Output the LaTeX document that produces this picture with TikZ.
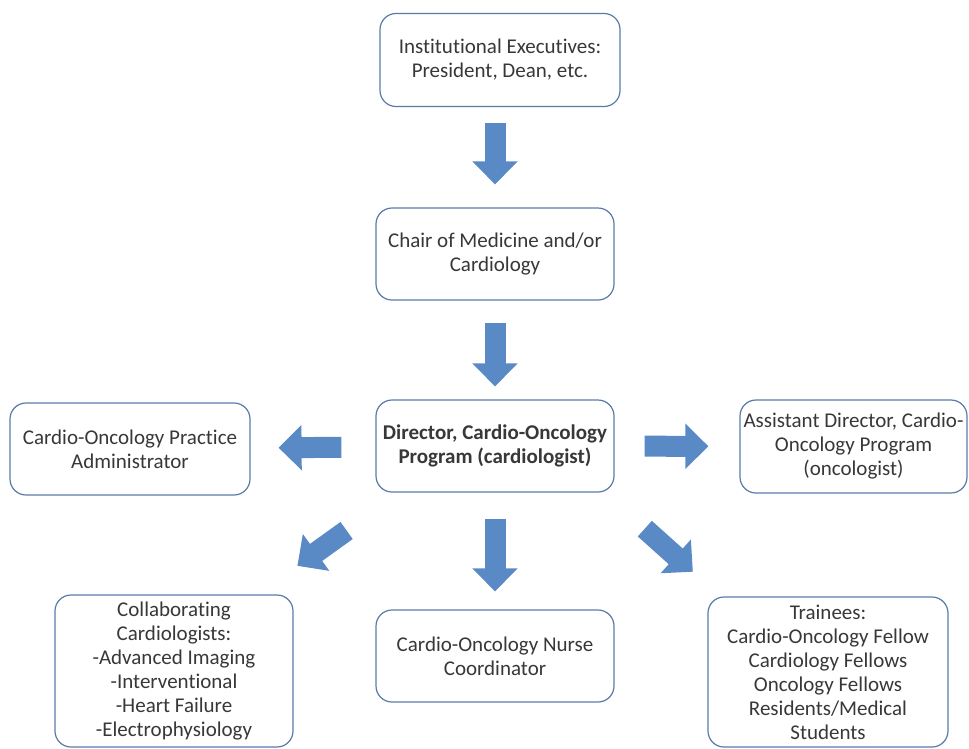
\documentclass[tikz,border=0pt]{standalone}
\usepackage{fontspec}
\setmainfont{Carlito}[Ligatures={NoCommon,NoContextual,NoRequired,NoDiscretionary}]
\usetikzlibrary{positioning}
\usetikzlibrary{arrows.meta}
\definecolor{boxline}{HTML}{5B7BA6}
\definecolor{arrowfill}{HTML}{5A8AC6}
\definecolor{textgray}{HTML}{383838}

\begin{document}
\begin{tikzpicture}[x=1pt,y=-1pt,
    orgbox/.style={draw=boxline, line width=1.2pt, rounded corners=16pt, fill=white, align=center, text=textgray,
        font=\fontsize{21}{24}\selectfont, minimum width=238pt, minimum height=92pt, inner sep=2pt},
    bigarrow/.style={draw=arrowfill, line width=21pt, -{Triangle[length=23pt,width=44pt]}}]
            \useasboundingbox (0,0) rectangle (969,748);

            % chain of command
            \node[orgbox, minimum width=240pt, minimum height=93pt] (exec) at (500,60) {Institutional Executives:\\President, Dean, etc.};
            \node[orgbox] (chair) at (495,254) {Chair of Medicine and/or\\Cardiology};
            \node[orgbox, font=\fontsize{21}{24}\selectfont\bfseries] (director) at (495,446) {Director, Cardio-Oncology\\Program (cardiologist)};

            % side boxes
            \node[orgbox, minimum width=240pt] (admin) at (130,449) {Cardio-Oncology Practice\\Administrator};
            \node[orgbox, minimum width=227pt, minimum height=93pt] (assistant) at (853.5,446.5) {Assistant Director, Cardio-\\Oncology Program\\(oncologist)};

            % bottom row
            \node[orgbox, minimum height=152pt] (collab) at (174,671) {Collaborating\\Cardiologists:\\-Advanced Imaging\\-Interventional\\-Heart Failure\\-Electrophysiology};
            \node[orgbox] (nurse) at (495,656) {Cardio-Oncology Nurse\\Coordinator};
            \node[orgbox, minimum width=240pt, minimum height=150pt] (trainees) at (828,672) {Trainees:\\Cardio-Oncology Fellow\\Cardiology Fellows\\Oncology Fellows\\Residents/Medical\\Students};

            \draw[bigarrow, shorten <=16pt, shorten >=23pt] (chair.north |- exec.south) -- (chair.north);
            \draw[bigarrow, shorten <=22pt, shorten >=13pt] (chair) -- (director);
            \draw[bigarrow, shorten <=34pt, shorten >=28pt] (director) -- (admin);
            \draw[bigarrow, shorten <=30pt, shorten >=31pt] (director) -- (assistant);
            \draw[bigarrow, shorten <=26pt, shorten >=18pt] (director) -- (nurse);
            \draw[bigarrow, shorten <=65pt, shorten >=49pt] ([xshift=24pt]director.south west) -- ([xshift=-36pt]collab.north east);
            \draw[bigarrow, shorten <=54pt, shorten >=37pt] ([xshift=-10pt]director.south east) -- ([xshift=13pt]trainees.north west);
        \end{tikzpicture}
\end{document}
